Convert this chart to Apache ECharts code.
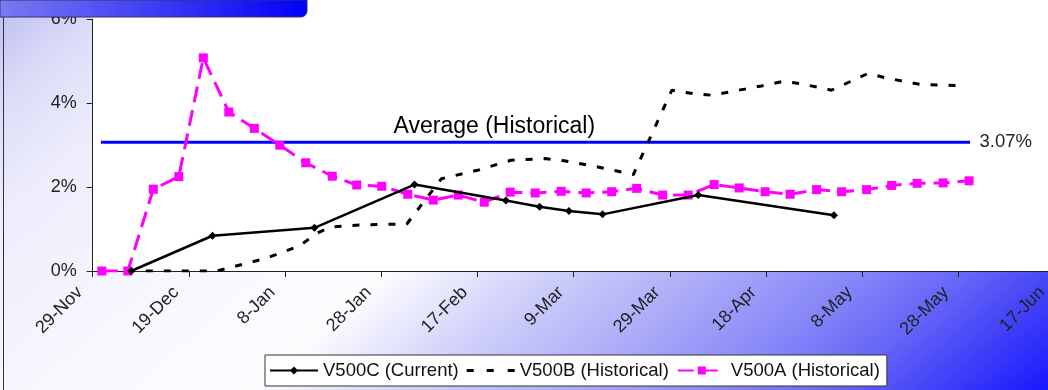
<!DOCTYPE html>
<html><head><meta charset="utf-8">
<script src="https://cdn.jsdelivr.net/npm/echarts@6/dist/echarts.min.js"></script>
<style>html,body{margin:0;padding:0;width:1048px;height:390px;overflow:hidden}#c{width:1056px;height:390px}</style>
</head><body><div id="c"></div>
<script>
// x values are days after 29-Nov (tick spacing 20 days)
const tickLabels = ['29-Nov','19-Dec','8-Jan','28-Jan','17-Feb','9-Mar','29-Mar','18-Apr','8-May','28-May','17-Jun'];

const cName = 'V500C (Current)';
const cDays = [8, 24.9, 46.1, 66.9, 85.9, 92.9, 99.0, 106.0, 125.9, 154.1];
const cVals = [0, 0.84, 1.03, 2.06, 1.68, 1.53, 1.43, 1.35, 1.81, 1.33];

const bName = 'V500B (Historical)';
const bDays = [7.3, 25.8, 36, 43, 46.6, 49.5, 56, 65.3, 72.5, 80, 87, 94, 98, 105, 112.4, 120.4, 124.8, 128.7, 139, 143.6, 147, 153.6, 161.2, 165, 172, 180];
const bVals = [0, 0, 0.3, 0.6, 0.9, 1.05, 1.1, 1.12, 2.2, 2.4, 2.64, 2.68, 2.63, 2.48, 2.3, 4.31, 4.23, 4.19, 4.41, 4.52, 4.47, 4.31, 4.71, 4.6, 4.45, 4.42];

const aName = 'V500A (Historical)';
const aDays = [1.9, 7.3, 12.6, 17.9, 23.0, 28.3, 33.6, 38.9, 44.3, 49.8, 54.9, 60.1, 65.5, 70.8, 76.0, 81.4, 86.8, 92.0, 97.4, 102.6, 107.9, 113.1, 118.5, 123.8, 129.2, 134.4, 139.8, 145.0, 150.5, 155.7, 160.9, 166.1, 171.4, 176.8, 182.2];
const aVals = [0, 0, 1.95, 2.25, 5.08, 3.79, 3.40, 3.0, 2.58, 2.26, 2.05, 2.02, 1.83, 1.69, 1.81, 1.64, 1.88, 1.86, 1.90, 1.86, 1.89, 1.97, 1.81, 1.81, 2.06, 1.98, 1.89, 1.83, 1.94, 1.89, 1.94, 2.04, 2.09, 2.10, 2.15];

const avgName = 'Average (Historical)';
const avgDays = [1.7, 182.4];
const avgValue = 3.07;
const avgLabelDay = 83.5;

function pairs(xs, ys) { return xs.map((x, i) => [x, ys[i]]); }

const FONT = '"Liberation Sans", Arial, sans-serif';
const dashIcon = 'path://M0,0h0.01v0.01h-0.01z M0,9.99h0.01v0.01h-0.01z M0,3.5h7v3h-7z M20,3.5h7v3h-7z M41,3.5h7v3h-7z';
const chart = echarts.init(document.getElementById('c'), null, {renderer: 'canvas'});
chart.setOption({
  animation: false,
  backgroundColor: {type: 'linear', x: 0, y: 0, x2: 0.6095, y2: 1.90, colorStops: [
    {offset: 0, color: '#bcbcf4'}, {offset: 0.08, color: '#dcdcf8'}, {offset: 0.16, color: '#ececfc'},
    {offset: 0.3, color: '#f6f6fe'}, {offset: 0.47, color: '#fcfcff'}, {offset: 0.575, color: '#d0d0fa'},
    {offset: 0.67, color: '#b0b0f8'}, {offset: 0.78, color: '#8888f8'}, {offset: 0.86, color: '#6464f8'},
    {offset: 0.925, color: '#4040f8'}, {offset: 1, color: '#1818ff'}]},
  textStyle: {fontFamily: FONT},
  grid: {left: 92.7, right: 1.3, top: 19.3, bottom: 119, show: true, backgroundColor: '#ffffff', borderWidth: 0},
  xAxis: {
    type: 'value', min: 0, max: 200, interval: 20,
    axisLine: {lineStyle: {color: '#222', width: 1}},
    axisTick: {length: 6, lineStyle: {color: '#222'}},
    splitLine: {show: false},
    axisLabel: {rotate: 45, margin: 6, padding: [0, 18, 0, 0], fontSize: 18, color: '#222', fontFamily: FONT,
      showMinLabel: true, showMaxLabel: true,
      formatter: v => tickLabels[Math.round(v / 20)]}
  },
  yAxis: {
    type: 'value', min: 0, max: 6, interval: 2,
    axisLine: {show: true, lineStyle: {color: '#222', width: 1}},
    axisTick: {show: true, length: 6, lineStyle: {color: '#222'}},
    splitLine: {show: false},
    axisLabel: {margin: 16, fontSize: 18, color: '#222', fontFamily: FONT, formatter: '{value}%'}
  },
  legend: {
    left: 265, top: 355, orient: 'horizontal',
    backgroundColor: '#fff', borderColor: '#333', borderWidth: 1, borderRadius: 0,
    padding: [6, 7, 6, 4], itemWidth: 48, itemHeight: 10, itemGap: 8,
    textStyle: {fontSize: 18.5, color: '#111', fontFamily: FONT},
    data: [cName, {name: bName, icon: dashIcon}, aName]
  },
  graphic: [
    {type: 'rect', shape: {x: 92.7, y: 0, width: 970, height: 20}, style: {fill: '#ffffff'}, z: -1},
    {type: 'line', shape: {x1: 3.5, y1: 17, x2: 3.5, y2: 390}, style: {stroke: '#333', lineWidth: 1}, z: 50},
    {type: 'rect', shape: {x: 0, y: 0, width: 307, height: 17, r: [0, 0, 6, 0]},
      style: {fill: {type: 'linear', x: 0, y: 0, x2: 1, y2: 0, colorStops: [{offset: 0, color: '#7a7af2'}, {offset: 1, color: '#0000f6'}]},
        stroke: '#34346a', lineWidth: 1}, z: 100}
  ],
  series: [
    {name: avgName, type: 'line', data: pairs(avgDays, [avgValue, avgValue]), symbol: 'none',
      lineStyle: {color: '#0000ff', width: 3}, itemStyle: {color: '#0000ff'}, z: 3,
      markPoint: {symbol: 'circle', symbolSize: 1, itemStyle: {color: 'rgba(0,0,0,0)'}, data: [
        {coord: [avgLabelDay, avgValue], label: {show: true, position: 'top', distance: 4, formatter: avgName, fontSize: 23, color: '#000', fontFamily: FONT}},
        {coord: [avgDays[1], avgValue], label: {show: true, position: 'right', distance: 9, formatter: avgValue.toFixed(2) + '%', fontSize: 18.5, color: '#222', fontFamily: FONT}}
      ]}},
    {name: bName, type: 'line', data: pairs(bDays, bVals), symbol: 'none',
      lineStyle: {color: '#000', width: 3, type: [7, 11]}, itemStyle: {color: '#000'}, z: 4},
    {name: aName, type: 'line', data: pairs(aDays, aVals), symbol: 'rect', symbolSize: 9,
      lineStyle: {color: '#ff00ff', width: 3, type: [16, 8]}, itemStyle: {color: '#ff00ff'}, z: 5},
    {name: cName, type: 'line', data: pairs(cDays, cVals), symbol: 'diamond', symbolSize: 8,
      lineStyle: {color: '#000', width: 2.5}, itemStyle: {color: '#000'}, z: 6}
  ]
});
</script></body></html>
